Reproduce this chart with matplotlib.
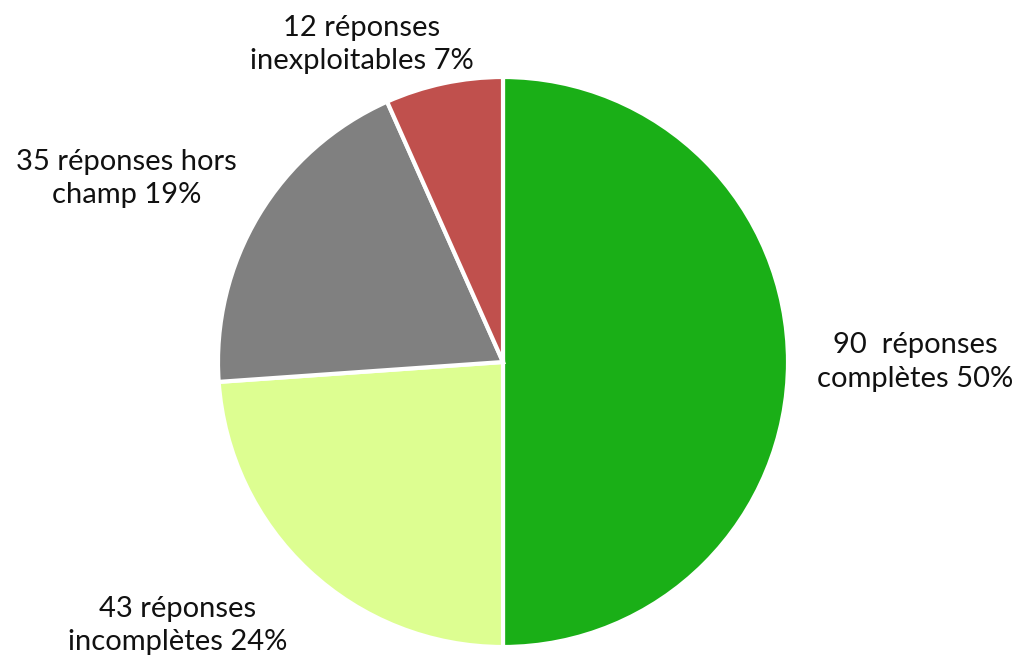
import numpy as np
import matplotlib.pyplot as plt

plt.rcParams['font.family'] = ['Lato', 'DejaVu Sans']

# survey responses by category (clockwise from the top)
counts = [90, 43, 35, 12]
label_heads = ["90  réponses", "43 réponses", "35 réponses hors", "12 réponses"]
label_tails = ["complètes", "incomplètes", "champ", "inexploitables"]
colors = ["#1aaf17", "#ddfe91", "#808080", "#c0504d"]

# where each label sits: angle (deg) and distance in pie radii
label_angles = [0, -141, 154, 114]
label_dists = [1.445, 1.47, 1.47, 1.22]

fig = plt.figure(figsize=(10.15, 6.59), dpi=100)
ax = fig.add_axes([0, 0, 1, 1])

wedges, _ = ax.pie(counts, colors=colors, startangle=90, counterclock=False,
                   radius=1, center=(0, 0),
                   wedgeprops=dict(edgecolor="white", linewidth=3))

total = sum(counts)
for head, tail, n, ang, d in zip(label_heads, label_tails, counts, label_angles, label_dists):
    pct = round(100 * n / total)
    x = d * np.cos(np.radians(ang))
    y = d * np.sin(np.radians(ang))
    ax.text(x, y, f"{head}\n{tail} {pct}%", ha="center", va="center",
            fontsize=21, color="#111111", linespacing=1.35)

# pie centred at pixel (503, 362), radius 285 px
r = 285.0
ax.set_xlim(-503 / r, (1015 - 503) / r)
ax.set_ylim(-(659 - 362) / r, 362 / r)
ax.set_aspect("auto")
ax.axis("off")

fig.savefig("out.png", dpi=100)
